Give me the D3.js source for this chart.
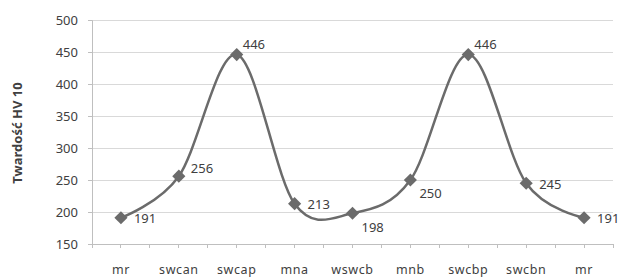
<!DOCTYPE html>
<html><head><meta charset="utf-8">
<script src="https://cdn.jsdelivr.net/npm/d3@7"></script>
<style>body{margin:0;background:#fff}svg{display:block}text{font-family:"Noto Sans",sans-serif}</style>
</head><body><svg id="c" width="632" height="278"></svg>
<script>
const categories = ["mr","swcan","swcap","mna","wswcb","mnb","swcbp","swcbn","mr"];
const hardness = [191,256,446,213,198,250,446,245,191];
const yTicks = [150,200,250,300,350,400,450,500];
const yLabel = "Twardość HV 10";

const svg = d3.select("#c");
const x0 = 92, x1 = 613, yTop = 20, yBot = 244;
const idx = categories.map((d,i)=>i);
const x = d3.scaleBand().domain(idx).range([x0,x1]);
const cx = i => x(i) + x.bandwidth()/2;
const y = d3.scaleLinear().domain([150,500]).range([yBot,yTop]);

// gridlines
svg.append("g").selectAll("line").data(yTicks.slice(1)).join("line")
  .attr("x1",x0).attr("x2",x1).attr("y1",d=>y(d)).attr("y2",d=>y(d))
  .attr("stroke","#d9d9d9").attr("stroke-width",1).attr("shape-rendering","crispEdges");

// y axis
const ya = svg.append("g").attr("transform",`translate(${x0},0)`)
  .call(d3.axisLeft(y).tickValues(yTicks).tickSize(4).tickPadding(10));
ya.select(".domain").attr("stroke","#bfbfbf");
ya.selectAll(".tick line").attr("stroke","#bfbfbf");
ya.selectAll("text").attr("font-size",13).attr("fill","#404040");

// x axis
const xa = svg.append("g").attr("transform",`translate(0,${yBot})`);
xa.append("line").attr("x1",x0).attr("x2",x1).attr("stroke","#bfbfbf").attr("shape-rendering","crispEdges");
const tickPos = d3.range(0, categories.length*2+1).map(k => x0 + k*x.bandwidth()/2);
xa.selectAll("line.t").data(tickPos).join("line").attr("class","t")
  .attr("x1",d=>d).attr("x2",d=>d).attr("y1",0).attr("y2",4)
  .attr("stroke","#bfbfbf").attr("shape-rendering","crispEdges");
xa.selectAll("text").data(idx).join("text")
  .attr("x",i=>cx(i)).attr("y",30).attr("text-anchor","middle")
  .attr("font-size",12.5).attr("letter-spacing",0.6).attr("fill","#404040").text(i=>categories[i]);

// y label
svg.append("text").attr("transform","translate(22,133) rotate(-90)")
  .attr("text-anchor","middle").attr("font-size",13).attr("font-weight","bold")
  .attr("fill","#404040").text(yLabel);

// line
const line = d3.line().x(i=>cx(i)).y(i=>y(hardness[i])).curve(d3.curveCardinal.tension(0));
svg.append("path").attr("d",line(idx)).attr("fill","none")
  .attr("stroke","#6b6b6b").attr("stroke-width",2.5);

// markers
svg.append("g").selectAll("path").data(idx).join("path")
  .attr("transform",i=>`translate(${cx(i)},${y(hardness[i])})`)
  .attr("d",d3.symbol(d3.symbolDiamond2,110)())
  .attr("fill","#6b6b6b");

// label placement: r = right, ur = upper right, dr = lower right
const placement = ["r","ur","ur","r","dr","dr","ur","r","r"];
const offsets = {r:[13,2], ur:[12,-7], dr:[9,15]};
svg.append("g").selectAll("text").data(idx).join("text")
  .attr("x",i=>cx(i)+offsets[placement[i]][0]-(hardness[i]>400?6:0))
  .attr("y",i=>y(hardness[i])+offsets[placement[i]][1]-(hardness[i]>400?2:0))
  .attr("dominant-baseline","middle").attr("font-size",13).attr("fill","#404040")
  .text(i=>hardness[i]);
</script></body></html>
